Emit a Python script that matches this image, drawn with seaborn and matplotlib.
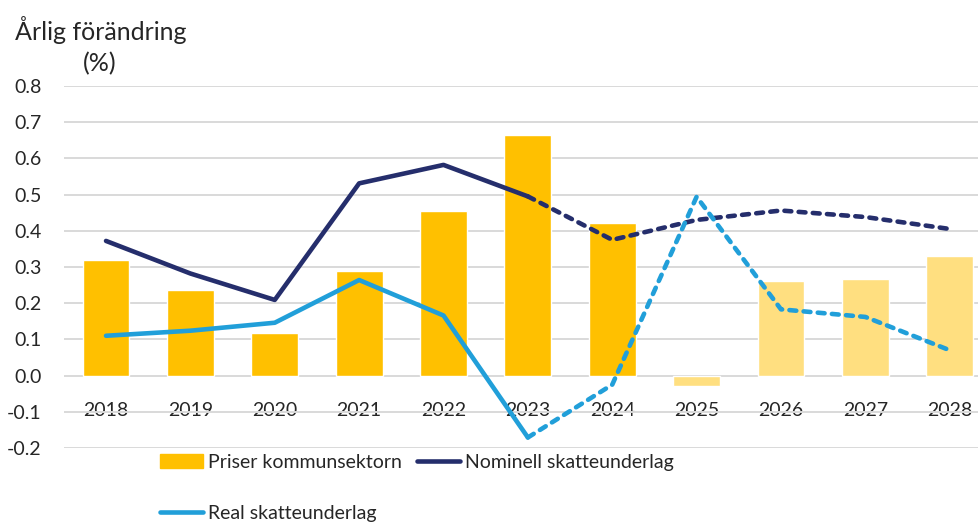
import numpy as np
import pandas as pd
import matplotlib
matplotlib.use("Agg")
import matplotlib.pyplot as plt
from matplotlib.patches import Patch
from matplotlib.lines import Line2D
import seaborn as sns

years = ["2018", "2019", "2020", "2021", "2022", "2023", "2024", "2025", "2026", "2027", "2028"]
priser = [0.320, 0.236, 0.119, 0.289, 0.455, 0.666, 0.422, -0.028, 0.262, 0.266, 0.331]
nominell = [0.372, 0.282, 0.209, 0.531, 0.582, 0.495, 0.375, 0.430, 0.456, 0.438, 0.405]
real = [0.110, 0.124, 0.146, 0.264, 0.166, -0.171, -0.025, 0.494, 0.183, 0.162, 0.070]
last_outcome = "2023"  # solid lines up to here, dashed after
first_light_bar = "2025"

c_bar = "#FFC000"
c_bar_light = "#FFDF80"
c_nom = "#252E6C"
c_real = "#219FD9"

sns.set_style("white")
plt.rcParams["font.family"] = ["Lato", "DejaVu Sans"]
plt.rcParams["axes.unicode_minus"] = False
fs = 14
fs_title = 18

fig = plt.figure(figsize=(9.79, 5.25), dpi=100)
ax = fig.add_axes([0.0652, 0.1467, 0.948, 0.6895])

df = pd.DataFrame({"year": years, "priser": priser, "nominell": nominell, "real": real})
df["pos"] = np.arange(len(df))
k = years.index(last_outcome)
kb = years.index(first_light_bar)
bar_colors = [c_bar if i < kb else c_bar_light for i in range(len(years))]

sns.barplot(data=df, x="year", y="priser", hue="year", palette=bar_colors,
            legend=False, width=0.555, saturation=1, ax=ax, zorder=2)

lw = 3.3
dash = (1.5, 1.6)
for col, c in [("nominell", c_nom), ("real", c_real)]:
    solid = df.iloc[:k + 1]
    dashed = df.iloc[k:]
    sns.lineplot(data=solid, x="pos", y=col, color=c, lw=lw, ax=ax, zorder=4,
                 solid_capstyle="round", solid_joinstyle="round")
    sns.lineplot(data=dashed, x="pos", y=col, color=c, lw=lw, ax=ax, zorder=4,
                 linestyle=(0, dash), dash_capstyle="round", dash_joinstyle="round")

# move the category axis to y = 0 before styling ticks (this resets them)
ax.spines["bottom"].set_position(("data", 0))
for s in ax.spines.values():
    s.set_visible(False)

ax.set_xlim(-0.5, len(years) - 0.5)
ax.set_ylim(-0.2, 0.8)
ticks = np.round(np.arange(-0.2, 0.81, 0.1), 1)
ax.set_yticks(ticks)
ax.set_yticklabels([f"{t:.1f}" for t in ticks], fontsize=fs)
ax.set_xticks(range(len(years)))
ax.set_xticklabels(years, fontsize=fs)
ax.tick_params(axis="x", length=0, pad=19, labelsize=fs)
ax.tick_params(axis="y", length=0, pad=16, labelsize=fs)
ax.yaxis.grid(True, color="#D9D9D9", lw=1.4, zorder=0)
ax.set_axisbelow(True)
ax.set_xlabel("")
ax.set_ylabel("")

fig.text(101 / 979, 1 - 30 / 525, "Årlig förändring", ha="center", va="center", fontsize=fs_title)
fig.text(100 / 979, 1 - 64 / 525, "(%)", ha="center", va="center", fontsize=fs_title)

handles = [Patch(color=c_bar), Line2D([], [], color=c_real, lw=lw, solid_capstyle="round"),
           Line2D([], [], color=c_nom, lw=lw, solid_capstyle="round")]
labels = ["Priser kommunsektorn", "Real skatteunderlag", "Nominell skatteunderlag"]
fig.legend(handles, labels, loc="upper left", bbox_to_anchor=(160 / 979, 1 - 454 / 525),
           ncol=2, frameon=False, fontsize=fs, handlelength=2.2, handletextpad=0.25,
           columnspacing=0.8, labelspacing=1.75, borderpad=0, borderaxespad=0)

fig.savefig("out.png", dpi=100)
